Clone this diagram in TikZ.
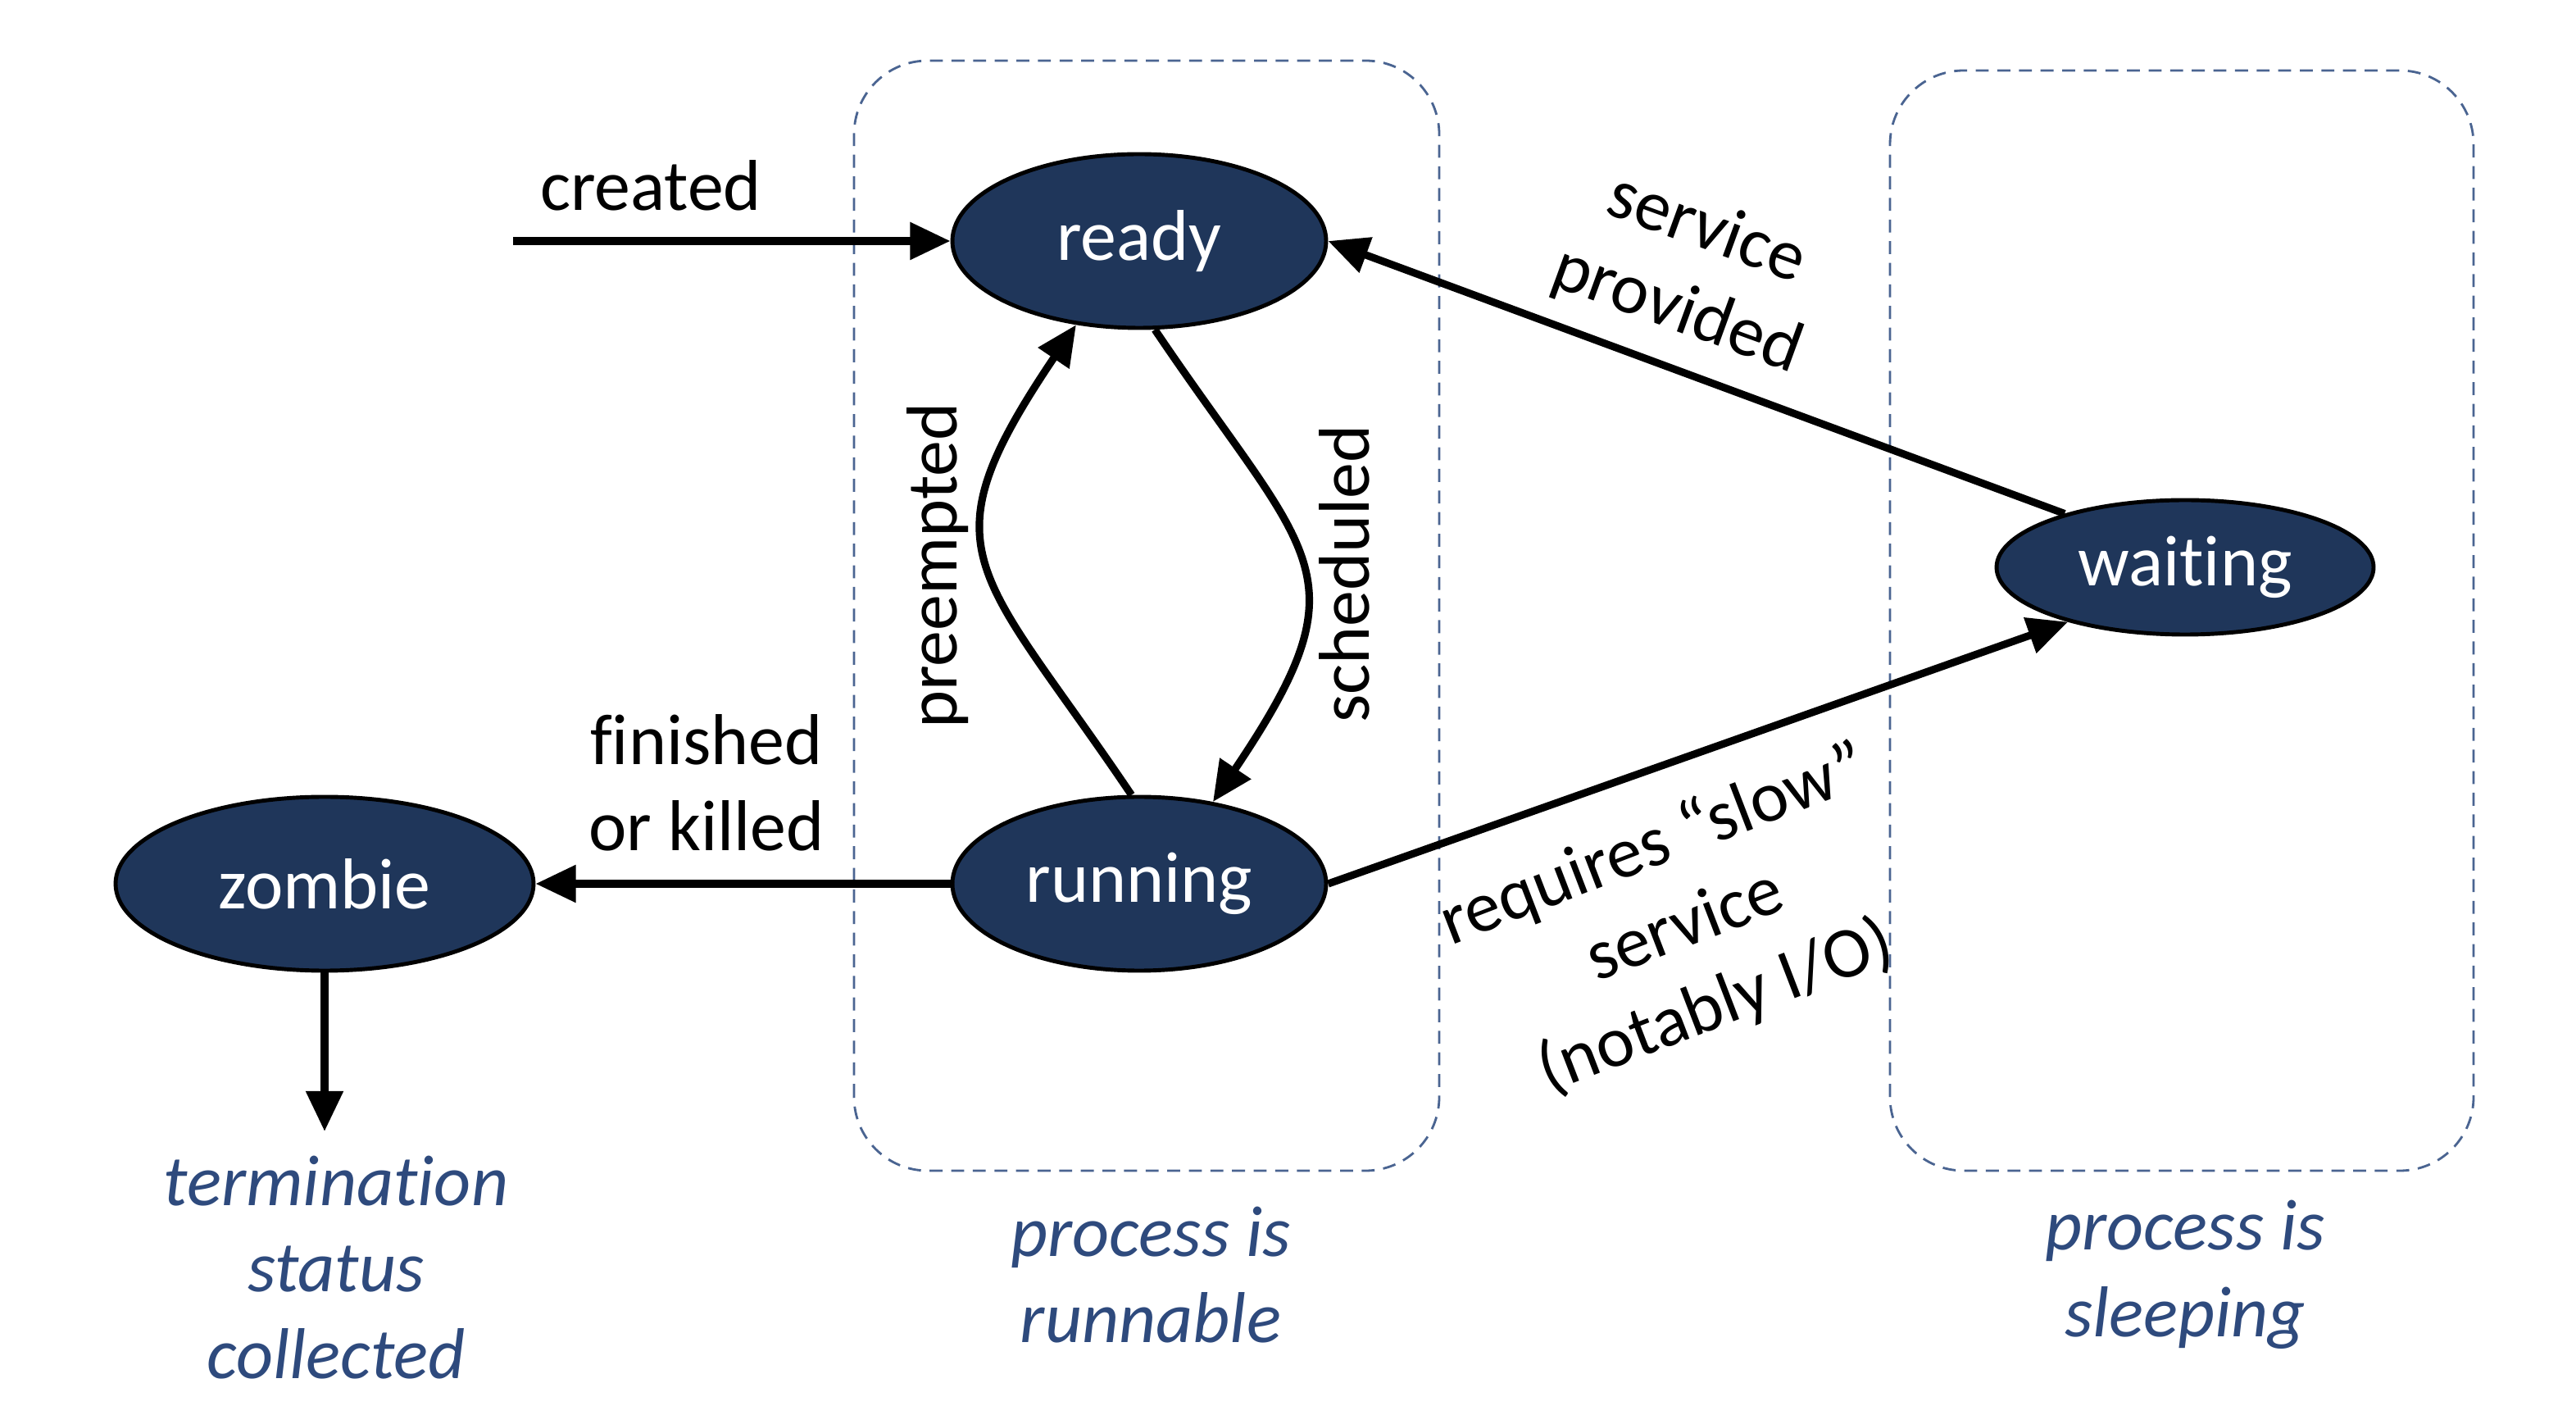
\documentclass[tikz,border=0pt]{standalone}
\usepackage{fontspec}
\setmainfont{Carlito}[Ligatures=NoCommon]
\usetikzlibrary{shapes.geometric,arrows.meta}
\definecolor{statefill}{RGB}{31,54,90}
\definecolor{notecolor}{RGB}{46,74,125}
\definecolor{boxline}{RGB}{74,100,145}
\tikzset{>={Triangle[length=14pt,width=12.5pt]},
  state/.style={ellipse,draw=black,line width=1.4pt,fill=statefill,text=white,
    inner sep=0pt,minimum width=4.56cm,minimum height=2.12cm,font=\fontsize{25}{30}\selectfont},
  trans/.style={->,line width=2.6pt},
  lbl/.style={align=center,font=\fontsize{25}{30}\selectfont},
  note/.style={align=center,text=notecolor,font=\fontsize{25}{30}\selectfont\itshape},
  group/.style={draw=boxline,line width=0.8pt,dash pattern=on 4.5pt off 3pt,rounded corners=0.9cm}}

\begin{document}
\begin{tikzpicture}
      \useasboundingbox (0,0) rectangle (31.43,17.14);
      % dashed groups
      \draw[group] (10.42,2.86) rectangle (17.56,16.40);
      \draw[group] (23.06,2.86) rectangle (30.18,16.28);
      % states
      \node[state] (ready) at (13.90,14.20) {ready};
      \node[state] (running) at (13.90,6.36) {running};
      \node[state,minimum width=4.60cm,minimum height=1.64cm] (waiting) at (26.66,10.22) {waiting};
      \node[state,minimum width=5.10cm] (zombie) at (3.96,6.36) {zombie};
      \coordinate (start) at (6.26,14.20);
      \coordinate (collect) at (3.96,3.34);
      % transitions
      \draw[trans] (start) -- (ready);
      \draw[trans] (ready.280) to[out=-56,in=56,looseness=1.5] (running.48);
      \draw[trans] (running.95) to[out=124,in=236,looseness=1.5] (ready.233);
      \draw[trans] (waiting.156) -- (ready.east);
      \draw[trans] (running.east) -- (waiting.205);
      \draw[trans] (running) -- (zombie);
      \draw[trans] (zombie) -- (collect);
      % labels
      \node[lbl] (createdlbl) at (7.94,14.88) {created};
      \node[lbl,rotate=90] (preemptlbl) at (11.44,10.24) {preempted};
      \node[lbl,rotate=90] (schedlbl) at (16.40,10.14) {scheduled};
      \node[lbl,rotate=-20] (providedlbl) at (20.64,13.84) {service\\provided};
      \node[lbl,rotate=21] (slowlbl) at (20.56,5.84) {requires “slow”\\service\\(notably I/O)};
      \node[lbl] (finishlbl) at (8.62,7.59) {finished\\or killed};
      \node[note] (collectlbl) at (4.10,1.68) {termination\\status\\collected};
      \node[note] (runnablelbl) at (14.04,1.59) {process is\\runnable};
      \node[note] (sleepinglbl) at (26.66,1.59) {process is\\sleeping};
\end{tikzpicture}
\end{document}
